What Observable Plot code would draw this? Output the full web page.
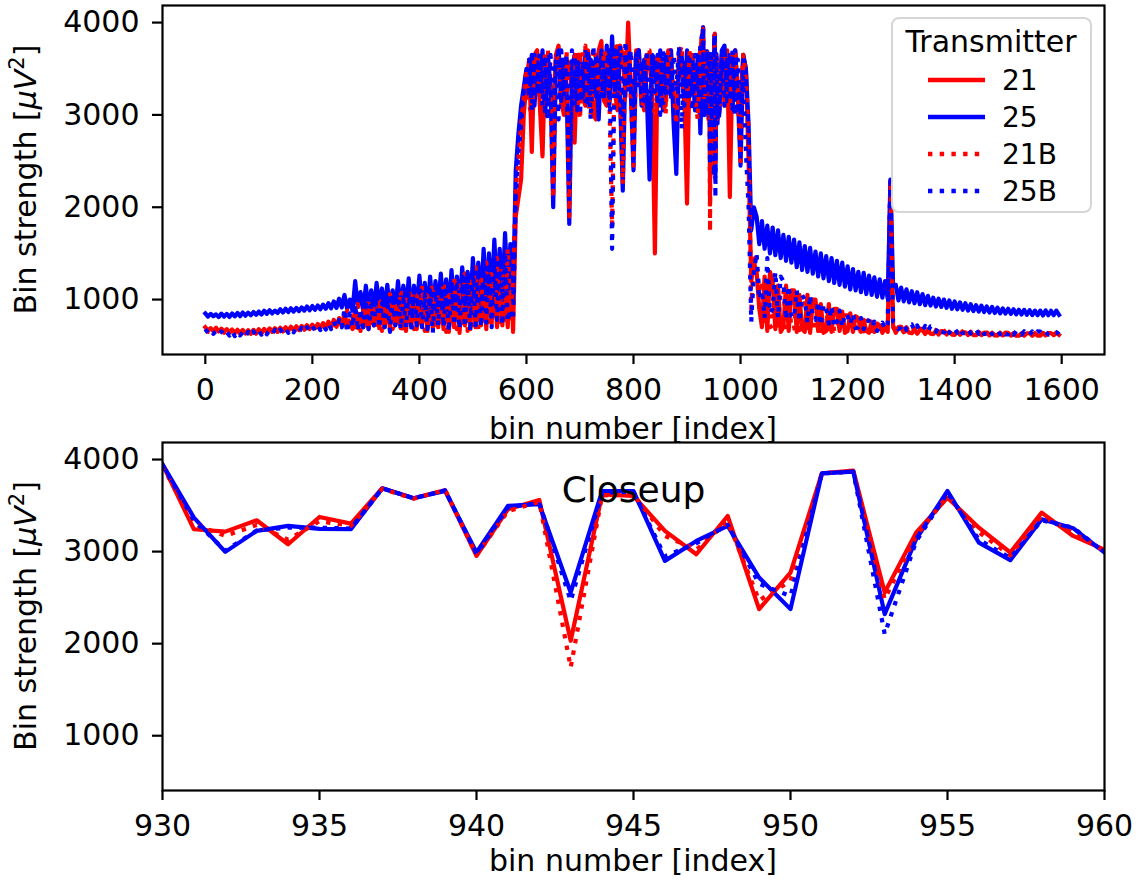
<!DOCTYPE html>
<html><head><meta charset="utf-8">
<script src="https://cdn.jsdelivr.net/npm/d3@7"></script>
<script src="https://cdn.jsdelivr.net/npm/@observablehq/plot@0.6"></script>
<style>
body{margin:0;background:#fff;}
#chart{position:relative;width:1138px;height:885px;font-family:"DejaVu Sans",sans-serif;}
#chart svg{position:absolute;left:0;overflow:visible;}
</style></head><body><div id="chart"></div>
<script>
// ---- series definitions ----
const seriesNames = ["21", "25", "21B", "25B"];
const seriesColors = ["#ff0000", "#0000ff", "#ff0000", "#0000ff"];
const seriesDash = ["none", "none", "4.4,7.3", "4.4,7.3"];

// ---- overview samples (every 5th bin, 0..1595) ----
const overviewBins = d3.range(0, 1600, 5);
const overview21 = [
  700,665,690,660,695,655,685,650,680,648,675,640,672,638,670,632,668,630,672,635,678,640,682,645,688,650,690,655,695,660,700,662,705,668,710,672,715,678,722,682,728,688,735,692,745,698,760,700,780,705,800,710,
  850,700,760,680,900,690,820,700,950,680,880,720,1000,690,900,700,1050,680,950,720,1080,690,950,660,1000,700,1100,680,1000,720,1120,660,1000,690,1150,700,1050,680,1180,650,1080,700,1200,640,1100,720,1250,680,1150,700,1300,720,1200,680,1350,740,1250,700,1400,720,1300,700,1500,650,
  1900,2100,2300,3000,
  3350,3600,2600,3650,3700,3100,2550,3600,3600,3200,3050,3650,3750,3150,3000,3600,3550,3250,2700,3650,3650,3200,3100,3700,3500,3000,2950,3700,3800,3150,3100,3650,3700,3250,3050,3750,3650,3200,4000,3300,3100,3700,3700,3200,3050,3650,3650,3150,1500,3600,3600,3150,3100,3700,3700,3050,3000,3650,3600,3200,2040,3650,3650,3100,3100,3700,3948,3376,2953,3604,2772,3586,3020,3650,3100,3700,2110,3600,3700,3150,3200,3650,3500,2500,
  1200,1400,1300,900,
  700,1250,660,1300,1200,680,1150,650,700,1150,660,1100,1100,650,1050,680,650,1050,640,1000,1000,660,950,640,660,950,650,900,900,660,870,640,660,850,650,820,800,650,780,660,640,760,650,740,720,640,700,650,2250,720,640,700,690,645,680,640,635,675,630,670,668,628,665,630,625,660,622,658,655,622,652,620,618,650,620,648,646,616,645,615,614,644,615,642,640,612,640,612,610,640,612,638,638,610,636,610,608,636,610,635,635,608,634,610,610,635,612,636,636,615,640,618];
const overview25 = [
  850,815,845,820,840,810,848,815,845,812,850,818,855,820,860,825,858,830,865,835,870,838,880,845,885,850,880,855,895,860,900,865,905,870,910,875,915,880,925,885,930,890,935,895,945,900,960,905,980,910,1010,915,
  1050,900,1000,880,1200,920,1080,880,1150,900,1100,870,1180,930,1120,880,1160,900,1100,860,1200,900,1150,880,1230,850,1150,880,1260,900,1180,860,1250,880,1200,900,1280,920,1220,880,1320,900,1250,920,1350,950,1300,900,1450,980,1400,950,1550,1000,1500,980,1650,1050,1550,1000,1720,1100,1600,1000,
  2400,2800,3100,3300,
  3500,3200,3650,3100,3600,3250,3700,3000,3650,3300,2000,3550,3700,3150,3600,3300,1820,3500,3650,3050,3550,3200,3700,3100,3600,3250,3650,2950,3700,3200,3750,3100,3850,3250,3700,3150,2180,3600,3700,3250,2400,3650,3700,3100,3600,3200,2300,3650,3600,3150,3700,3050,3650,3250,3700,2900,2360,3600,3650,3100,3700,3200,3600,3050,3650,2800,3948,3246,2990,3658,2375,3658,2990,3700,3750,3150,3650,3050,3700,3200,2450,3650,3500,2900,
  1750,2000,1900,1600,
  1850,1550,1800,1500,1780,1480,1750,1450,1700,1420,1680,1400,1650,1350,1620,1320,1580,1300,1560,1280,1520,1250,1500,1230,1470,1200,1450,1180,1420,1160,1400,1140,1360,1110,1330,1100,1300,1080,1290,1060,1260,1050,1240,1030,1220,1020,1200,1010,2300,1150,1160,990,1130,980,1110,970,1090,960,1080,950,1060,940,1040,935,1020,925,1010,920,1000,910,990,900,980,895,970,890,960,880,950,875,940,870,935,865,925,860,920,855,912,850,905,848,900,845,895,840,890,838,888,835,885,832,880,830,880,828,882,830,878,830,880,835];
const overview21B = [
  680,650,685,655,675,645,670,640,668,636,662,630,660,628,658,626,660,628,665,632,670,636,675,640,680,645,685,650,690,655,694,660,700,665,705,670,710,675,716,680,722,685,730,690,740,695,755,700,770,705,790,710,
  720,880,680,820,700,950,660,880,720,980,690,900,700,1020,660,950,720,1060,680,980,700,1100,650,1000,720,1120,680,1050,700,1150,660,1050,720,1180,680,1080,700,1200,650,1100,720,1250,680,1150,700,1280,660,1200,720,1350,680,1250,740,1400,700,1300,760,1450,720,1350,780,1550,800,1200,
  2200,2500,2900,3200,
  3500,3100,3000,3600,3650,3150,2800,3700,3700,3200,2100,3650,3600,3100,3050,3700,1900,3650,3650,3200,2950,3700,3750,3150,3000,3650,3650,3250,3200,3700,3600,3150,1800,3650,3800,3250,2250,3700,3750,3200,2450,3650,3550,3100,3150,3700,3700,3200,2950,3650,3650,3150,3000,3700,3600,3250,2900,3650,3750,3150,3100,3700,3650,3200,2950,3700,3930,3330,2960,3620,2680,3600,3010,3650,3650,3150,3000,3700,3700,3200,2500,3650,3400,2800,
  900,1500,1400,1100,
  1200,720,1250,700,720,1150,680,1100,1100,700,1050,680,690,1050,670,1000,1000,690,950,670,680,950,660,900,900,680,870,660,670,860,660,830,830,670,800,660,665,790,655,770,770,660,750,650,660,740,650,720,2300,700,660,710,705,650,700,648,645,690,642,685,680,640,676,638,635,670,632,668,665,630,662,628,626,660,625,658,655,622,652,622,620,650,620,648,646,618,645,618,616,644,616,642,640,615,640,615,614,640,615,638,638,614,636,615,615,638,616,638,640,618,642,625];
const overview25B = [
  680,640,670,630,660,620,655,615,650,610,660,605,650,612,645,600,650,610,655,615,660,620,665,625,668,630,670,632,675,635,680,640,685,645,690,650,695,655,700,660,710,665,715,670,725,675,740,680,760,690,780,700,
  900,640,850,700,950,660,900,700,1000,680,950,720,1050,690,980,700,1000,650,1050,720,1100,680,1000,700,1080,650,1100,720,1150,700,1050,680,1100,640,1150,720,1180,700,1100,650,1200,720,1150,680,1250,700,1300,650,1350,720,1250,700,1400,750,1350,700,1450,780,1400,720,1500,760,900,780,
  2100,2600,2900,3250,
  3300,3600,3050,3650,3200,3700,3100,3600,2950,3650,3250,3600,2950,3700,3200,3650,2300,3700,3100,3600,3000,3550,3150,3700,2950,3750,3200,3650,3150,3500,3300,3700,1550,3700,3200,3750,3000,3800,3250,3700,3100,3650,3300,3600,3150,3700,2900,3650,3250,3650,3000,3700,3200,3550,3150,3650,3250,3750,2850,3600,3200,3600,3050,3650,3250,3750,3940,3260,2975,3650,2517,3640,2990,3600,3100,3650,3150,3700,3000,3600,3000,3400,2600,2000,
  760,1300,1500,1000,
  1100,800,1450,850,900,1300,800,1250,1200,780,1150,820,800,1100,760,1050,1000,750,1050,800,780,980,720,950,900,740,930,700,760,880,700,850,820,730,850,690,700,800,680,780,770,700,760,660,700,750,680,740,2280,760,730,680,700,740,670,720,730,665,720,660,660,715,655,710,705,650,700,648,645,695,640,690,688,640,685,635,635,680,632,678,675,630,672,628,628,670,625,668,665,625,662,622,622,660,620,660,658,620,656,618,618,655,620,655,652,620,650,620,622,650,648,625];

// ---- closeup samples (every bin, 930..960) ----
const closeupBins = d3.range(930, 961);
const closeup21 = [3948,3243,3217,3340,3080,3376,3304,3688,3579,3666,2953,3460,3561,2031,3622,3604,3225,2971,3387,2375,2772,3850,3880,2556,3206,3586,3260,2990,3423,3170,3020];
const closeup25 = [3948,3369,2997,3225,3279,3246,3243,3688,3579,3660,2990,3496,3514,2556,3658,3658,2899,3116,3279,2718,2375,3850,3868,2321,3134,3658,3098,2907,3351,3254,2990];
const closeup21B = [3930,3300,3170,3290,3130,3330,3280,3680,3575,3670,2960,3440,3540,1742,3610,3620,3170,3020,3330,2470,2680,3850,3870,2484,3170,3600,3210,2960,3390,3200,3010];
const closeup25B = [3940,3340,3010,3230,3260,3260,3250,3685,3580,3665,2975,3480,3530,2465,3640,3650,2950,3090,3290,2650,2517,3850,3868,2104,3110,3640,3130,2930,3340,3260,2990];

// ---- axis ticks / labels ----
const xTicksTop = [0, 200, 400, 600, 800, 1000, 1200, 1400, 1600];
const xTicksBottom = [930, 935, 940, 945, 950, 955, 960];
const yTicks = [1000, 2000, 3000, 4000];
const yLabelText = ["Bin strength [", "μV", "2", "]"];
const xLabelText = "bin number [index]";
const legendTitle = "Transmitter";
const closeupTitle = "Closeup";

// ---- build tables ----
const overviewSets = [overview21, overview25, overview21B, overview25B];
const closeupSets = [closeup21, closeup25, closeup21B, closeup25B];
overviewSets.forEach((a, k) => { if (a.length !== overviewBins.length) throw new Error("overview " + seriesNames[k] + " has " + a.length); });
closeupSets.forEach((a, k) => { if (a.length !== closeupBins.length) throw new Error("closeup " + seriesNames[k] + " has " + a.length); });
const closeupRows = [], topRows = [];
seriesNames.forEach((s, k) => {
  const cl = closeupBins.map((b, i) => ({bin: b, value: closeupSets[k][i], series: s}));
  closeupRows.push(...cl);
  const ov = overviewBins.map((b, i) => ({bin: b, value: overviewSets[k][i], series: s}))
    .filter(d => d.bin < 930 || d.bin > 960);
  topRows.push(...ov.concat(cl).sort((a, b) => a.bin - b.bin));
});

const FONT = "DejaVu Sans";
const yDomain = [405, 4185];

function lineMarks(rows, w) {
  return seriesNames.map((s, k) => Plot.line(rows.filter(r => r.series === s), {
    x: "bin", y: "value", stroke: seriesColors[k], strokeWidth: w,
    strokeDasharray: seriesDash[k], strokeLinecap: k >= 2 ? "butt" : "square",
    strokeLinejoin: "round", clip: true
  }));
}

const common = {
  width: 1138, marginLeft: 162, marginRight: 34,
  style: {background: "none", fontFamily: FONT, fontSize: "30px", overflow: "visible", color: "black"}
};

const topPlot = Plot.plot({
  ...common, height: 442, marginTop: 5, marginBottom: 88,
  x: {domain: [-80, 1680], ticks: xTicksTop, tickFormat: d => String(d), tickSize: 10, tickPadding: 14, label: null},
  y: {domain: yDomain, ticks: yTicks, tickFormat: d => String(d), tickSize: 10, tickPadding: 13, label: null},
  marks: [...lineMarks(topRows, 4.2), Plot.frame({stroke: "black", strokeWidth: 2.2})]
});

const bottomPlot = Plot.plot({
  ...common, height: 443, marginTop: 0, marginBottom: 95,
  x: {domain: [930, 960], ticks: xTicksBottom, tickFormat: d => String(d), tickSize: 10, tickPadding: 14, label: null},
  y: {domain: yDomain, ticks: yTicks, tickFormat: d => String(d), tickSize: 10, tickPadding: 13, label: null},
  marks: [...lineMarks(closeupRows, 4.2),
    Plot.text([closeupTitle], {text: d => d, frameAnchor: "top", dy: 48, lineAnchor: "middle", fontSize: 36, fill: "black"}),
    Plot.frame({stroke: "black", strokeWidth: 2.2})]
});

const chart = document.getElementById("chart");
topPlot.style.top = "0px";
bottomPlot.style.top = "442px";
chart.appendChild(topPlot);
chart.appendChild(bottomPlot);

for (const svg of [topPlot, bottomPlot]) {
  d3.select(svg).selectAll("[aria-label$='tick'] path, .tick line").attr("stroke-width", 2.2).attr("stroke", "black");
}

function addYLabel(svg, cy) {
  const t = d3.select(svg).append("text")
    .attr("transform", `translate(36,${cy}) rotate(-90)`)
    .attr("text-anchor", "middle").attr("font-size", 30).attr("font-family", FONT).attr("fill", "black");
  t.append("tspan").text(yLabelText[0]);
  t.append("tspan").attr("font-style", "italic").text(yLabelText[1]);
  t.append("tspan").attr("font-size", 21).attr("dy", -12).text(yLabelText[2]);
  t.append("tspan").attr("dy", 12).text(yLabelText[3]);
}
function addXLabel(svg, y) {
  d3.select(svg).append("text").attr("x", 633).attr("y", y)
    .attr("text-anchor", "middle").attr("font-size", 30).attr("font-family", FONT).attr("fill", "black")
    .text(xLabelText);
}
addYLabel(topPlot, 179.5);
addYLabel(bottomPlot, 174);
addXLabel(topPlot, 439);
addXLabel(bottomPlot, 429);

// ---- legend (inside top panel, upper right) ----
const lg = d3.select(chart).append("svg")
  .attr("width", 202).attr("height", 197)
  .style("left", "891px").style("top", "17px");
lg.append("rect").attr("x", 1).attr("y", 1).attr("width", 199).attr("height", 194).attr("rx", 7)
  .attr("fill", "white").attr("fill-opacity", 0.8).attr("stroke", "#d6d6d6").attr("stroke-width", 2);
lg.append("text").attr("x", 100).attr("y", 35).attr("text-anchor", "middle")
  .attr("font-size", 30).attr("font-family", FONT).attr("fill", "black").text(legendTitle);
const rowY = [63, 100, 137, 174];
seriesNames.forEach((s, k) => {
  lg.append("line").attr("x1", 37).attr("x2", 94).attr("y1", rowY[k]).attr("y2", rowY[k])
    .attr("stroke", seriesColors[k]).attr("stroke-width", 4.4)
    .attr("stroke-dasharray", seriesDash[k]).attr("stroke-linecap", "butt");
  lg.append("text").attr("x", 111).attr("y", rowY[k] + 10)
    .attr("font-size", 28).attr("font-family", FONT).attr("fill", "black").text(s);
});
</script></body></html>
